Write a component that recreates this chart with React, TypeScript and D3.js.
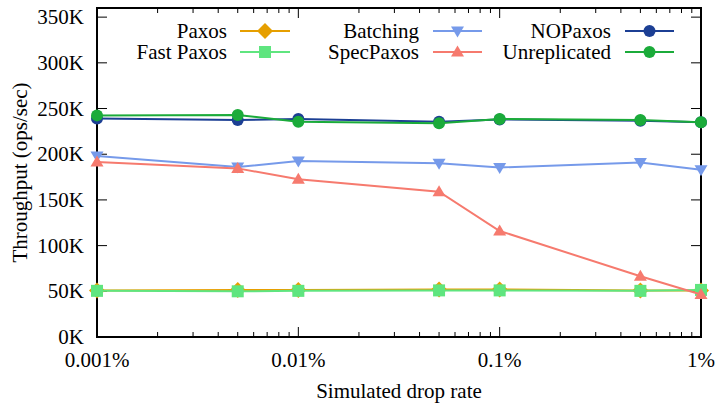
import React from "react";
import * as d3 from "d3";

// Drop rates in percent
const dropRates = [0.001, 0.005, 0.01, 0.05, 0.1, 0.5, 1];

// Throughput in ops/sec, in thousands
const paxos = [51, 51.5, 51.5, 52, 52, 51, 51];
const fastPaxos = [50.5, 50, 50.5, 51, 51, 50.5, 51.5];
const batching = [198, 186, 192.5, 190, 185.5, 191, 183];
const specPaxos = [191.5, 184.5, 172.5, 159, 116, 66.5, 46.5];
const noPaxos = [239, 237.5, 238.5, 235.5, 238, 236.5, 235];
const unreplicated = [242.5, 243, 235.5, 234, 238.5, 237.5, 235];

const yTicks = [0, 50, 100, 150, 200, 250, 300, 350];
const xTicks = [0.001, 0.01, 0.1, 1];
const xTickLabels = ["0.001%", "0.01%", "0.1%", "1%"];

type Marker = "diamond" | "square" | "triDown" | "triUp" | "circle";

const series: { name: string; values: number[]; color: string; marker: Marker }[] = [
  { name: "Paxos", values: paxos, color: "#e69f00", marker: "diamond" },
  { name: "Fast Paxos", values: fastPaxos, color: "#5fe57f", marker: "square" },
  { name: "Batching", values: batching, color: "#769aea", marker: "triDown" },
  { name: "SpecPaxos", values: specPaxos, color: "#f67a6e", marker: "triUp" },
  { name: "NOPaxos", values: noPaxos, color: "#1c3f94", marker: "circle" },
  { name: "Unreplicated", values: unreplicated, color: "#1bab3a", marker: "circle" },
];

const FONT = '"Liberation Serif", "DejaVu Serif", serif';

const left = 97;
const right = 701;
const top = 8;
const bottom = 337;

function MarkerShape({ m, x, y, color }: { m: Marker; x: number; y: number; color: string }) {
  switch (m) {
    case "diamond":
      return <path d={`M${x},${y - 8}L${x + 8},${y}L${x},${y + 8}L${x - 8},${y}Z`} fill={color} />;
    case "square":
      return <rect x={x - 6} y={y - 6} width={12} height={12} fill={color} />;
    case "triDown":
      return <path d={`M${x - 6.5},${y - 4.5}L${x + 6.5},${y - 4.5}L${x},${y + 6.5}Z`} fill={color} />;
    case "triUp":
      return <path d={`M${x - 6.5},${y + 4.5}L${x + 6.5},${y + 4.5}L${x},${y - 6.5}Z`} fill={color} />;
    default:
      return <circle cx={x} cy={y} r={6} fill={color} />;
  }
}

export default function App() {
  const x = d3.scaleLog().domain([0.001, 1]).range([left, right]);
  const y = d3.scaleLinear().domain([0, 360]).range([bottom, top]);

  const line = d3
    .line<number>()
    .x((_, i) => x(dropRates[i]))
    .y((d) => y(d));

  // minor log ticks 2..9 within each decade
  const minor: number[] = [];
  for (let dec = 0.001; dec < 1; dec *= 10) {
    for (let k = 2; k <= 9; k++) minor.push(dec * k);
  }

  // legend layout: 3 columns x 2 rows
  const legendCols = [
    { textRight: 227, lineStart: 240, lineEnd: 290 },
    { textRight: 419, lineStart: 433, lineEnd: 482 },
    { textRight: 611, lineStart: 625, lineEnd: 674 },
  ];
  const legendRows = [31, 52];

  const textStyle = { fontFamily: FONT, fontSize: "21px" };

  return (
    <svg width={716} height={405} style={{ position: "absolute", left: 0, top: 0, background: "#fff" }}>
      <g style={textStyle} fill="#000">
        {/* y ticks and labels */}
        {yTicks.map((t) => (
          <g key={"y" + t}>
            <line x1={left} x2={left + 10} y1={y(t)} y2={y(t)} stroke="#000" strokeWidth={1} />
            <line x1={right - 10} x2={right} y1={y(t)} y2={y(t)} stroke="#000" strokeWidth={1} />
            <text x={84} y={y(t) + 7} textAnchor="end">
              {t}K
            </text>
          </g>
        ))}
        {/* x ticks and labels */}
        {xTicks.map((t, i) => (
          <g key={"x" + t}>
            <line x1={x(t)} x2={x(t)} y1={bottom} y2={bottom - 10} stroke="#000" strokeWidth={1} />
            <line x1={x(t)} x2={x(t)} y1={top} y2={top + 10} stroke="#000" strokeWidth={1} />
            <text x={x(t)} y={367} textAnchor="middle">
              {xTickLabels[i]}
            </text>
          </g>
        ))}
        {minor.map((t) => (
          <g key={"m" + t}>
            <line x1={x(t)} x2={x(t)} y1={bottom} y2={bottom - 5} stroke="#000" strokeWidth={1} />
            <line x1={x(t)} x2={x(t)} y1={top} y2={top + 5} stroke="#000" strokeWidth={1} />
          </g>
        ))}
        {/* frame */}
        <rect x={left} y={top} width={right - left} height={bottom - top} fill="none" stroke="#000" strokeWidth={2} />

        {/* axis titles */}
        <text x={399} y={398} textAnchor="middle">
          Simulated drop rate
        </text>
        <text transform={`translate(27,${(top + bottom) / 2}) rotate(-90)`} textAnchor="middle">
          Throughput (ops/sec)
        </text>

        {/* legend */}
        {series.map((s, i) => {
          const col = legendCols[Math.floor(i / 2)];
          const ry = legendRows[i % 2];
          const mid = (col.lineStart + col.lineEnd) / 2;
          return (
            <g key={"lg" + s.name}>
              <text x={col.textRight} y={ry + 7} textAnchor="end">
                {s.name}
              </text>
              <line x1={col.lineStart} x2={col.lineEnd} y1={ry} y2={ry} stroke={s.color} strokeWidth={2} />
              <MarkerShape m={s.marker} x={mid} y={ry} color={s.color} />
            </g>
          );
        })}

        {/* series */}
        {series.map((s) => (
          <g key={s.name}>
            <path d={line(s.values) ?? ""} fill="none" stroke={s.color} strokeWidth={2} />
            {s.values.map((v, i) => (
              <MarkerShape key={i} m={s.marker} x={x(dropRates[i])} y={y(v)} color={s.color} />
            ))}
          </g>
        ))}
      </g>
    </svg>
  );
}
